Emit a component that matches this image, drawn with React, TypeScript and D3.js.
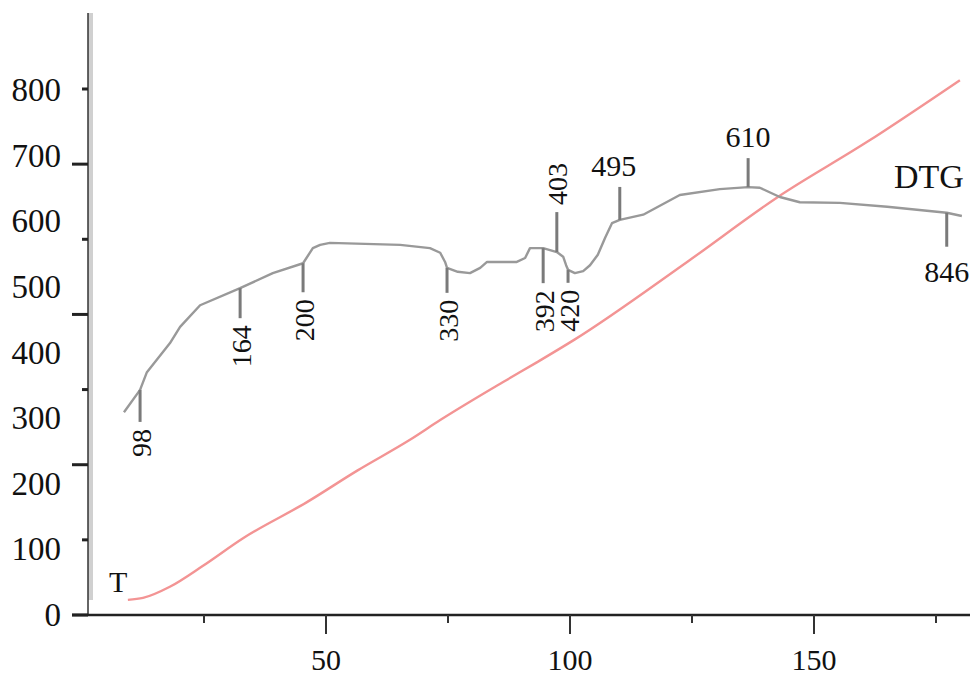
import React, { useEffect, useRef } from 'react';
import * as d3 from 'd3';

// time axis (min)
const xTicks = [25, 50, 75, 100, 125, 150, 175];
const xLabels = [50, 100, 150];
// temperature labels on the left
const yLabels = [0, 100, 200, 300, 400, 500, 600, 700, 800];
// tick marks drawn on the left axis (they don't line up with the labels)
const yMarks = [0, 1, 2, 3, 4, 5, 6, 7];

// T curve
const tempTime = [9.4, 12.5, 18.0, 24.8, 33.0, 46.1, 56.4, 67.2, 73.4, 86.3, 93.2, 101.0, 124.0, 142.6, 160.9, 179.9];
const tempValue = [23, 26, 43, 75, 117, 172, 220, 267, 297, 355, 385, 420, 538, 637, 721, 815];

// DTG curve (arbitrary units on the same scale)
const dtgTime = [8.6, 11.9, 13.3, 18.0, 20.1, 24.2, 32.4, 39.1, 45.3, 47.3, 48.8, 50.8, 65.2, 71.3, 73.4, 74.4, 74.8, 77.0, 79.5, 81.6, 83.0, 89.1, 90.8, 91.8, 94.5, 97.3, 98.6, 99.2, 99.6, 101.0, 102.7, 104.1, 105.7, 107.2, 108.6, 110.2, 115.0, 122.5, 130.7, 136.5, 138.9, 143.0, 147.1, 155.3, 165.0, 177.2, 180.3];
const dtgValue = [309, 343, 370, 414, 439, 472, 498, 521, 536, 559, 564, 567, 564, 559, 552, 538, 529, 523, 521, 529, 538, 538, 544, 559, 559, 553, 546, 533, 526, 521, 524, 533, 549, 575, 597, 602, 610, 640, 649, 652, 651, 637, 629, 628, 622, 613, 608];

// marked peaks
const peakLabels = ['98', '164', '200', '330', '392', '420', '403', '495', '610', '846'];
const peakTime = [11.9, 32.4, 45.3, 74.8, 94.5, 99.6, 97.3, 110.2, 136.5, 177.2];
const peakValue = [343, 498, 536, 529, 559, 526, 553, 602, 652, 613];

// how each marker is drawn: direction (1 = down), line length, rotated label
const peakStyle = [
  { dir: 1, len: 32, rot: true },
  { dir: 1, len: 30, rot: true },
  { dir: 1, len: 29, rot: true },
  { dir: 1, len: 25, rot: true },
  { dir: 1, len: 35, rot: true },
  { dir: 1, len: 13, rot: true },
  { dir: -1, len: 40, rot: true },
  { dir: -1, len: 33, rot: false },
  { dir: -1, len: 29, rot: false },
  { dir: 1, len: 34, rot: false },
];

const W = 975;
const H = 675;
const font = "'Liberation Serif', 'Times New Roman', serif";

export default function App() {
  const ref = useRef<SVGSVGElement>(null);

  useEffect(() => {
    const svg = d3.select(ref.current);
    svg.selectAll('*').remove();

    const x = d3.scaleLinear().domain([0, 180]).range([82, 960.4]);
    const y = d3.scaleLinear().domain([0, 800]).range([615, 90]);
    const markY = d3.scaleLinear().domain([0, 7]).range([615, 89]);

    // left axis
    svg.append('rect')
      .attr('x', 88).attr('y', 13).attr('width', 5).attr('height', 587)
      .attr('fill', '#d0d0d0');
    svg.append('line')
      .attr('x1', 88).attr('x2', 88).attr('y1', 13).attr('y2', 615)
      .attr('stroke', '#333').attr('stroke-width', 1.5);
    svg.selectAll(null).data(yMarks).join('line')
      .attr('x1', d => d % 2 === 0 ? 72 : 82).attr('x2', 88)
      .attr('y1', d => markY(d)).attr('y2', d => markY(d))
      .attr('stroke', '#222').attr('stroke-width', 3);
    svg.selectAll(null).data(yLabels).join('text')
      .attr('x', 61).attr('y', d => y(d))
      .attr('text-anchor', 'end').attr('dominant-baseline', 'central')
      .attr('font-family', font).attr('font-size', 33).attr('fill', '#111')
      .text(d => d);

    // bottom axis
    svg.append('line')
      .attr('x1', 72).attr('x2', 970).attr('y1', 615).attr('y2', 615)
      .attr('stroke', '#222').attr('stroke-width', 2.5);
    svg.selectAll(null).data(xTicks).join('line')
      .attr('x1', d => x(d)).attr('x2', d => x(d))
      .attr('y1', 615).attr('y2', d => d % 50 === 0 ? 634 : 623)
      .attr('stroke', '#333').attr('stroke-width', 2);
    svg.selectAll(null).data(xLabels).join('text')
      .attr('x', d => x(d)).attr('y', 670)
      .attr('text-anchor', 'middle')
      .attr('font-family', font).attr('font-size', 30).attr('fill', '#111')
      .text(d => d);

    // T curve
    const tLine = d3.line<number>()
      .x((d, i) => x(tempTime[i]))
      .y(d => y(d))
      .curve(d3.curveMonotoneX);
    svg.append('path')
      .datum(tempValue)
      .attr('fill', 'none')
      .attr('stroke', '#f39494')
      .attr('stroke-width', 2.4)
      .attr('d', tLine);

    // DTG curve
    const dLine = d3.line<number>()
      .x((d, i) => x(dtgTime[i]))
      .y(d => y(d));
    svg.append('path')
      .datum(dtgValue)
      .attr('fill', 'none')
      .attr('stroke', '#999')
      .attr('stroke-width', 2.4)
      .attr('stroke-linejoin', 'round')
      .attr('d', dLine);

    // peak markers
    peakLabels.forEach((lab, i) => {
      const st = peakStyle[i];
      const px = x(peakTime[i]);
      const py = y(peakValue[i]);
      const end = py + st.dir * st.len;
      svg.append('line')
        .attr('x1', px).attr('x2', px).attr('y1', py).attr('y2', end)
        .attr('stroke', '#7a7a7a').attr('stroke-width', 3);
      const t = svg.append('text')
        .attr('font-family', font).attr('fill', '#111')
        .text(lab);
      if (st.rot) {
        t.attr('font-size', 28)
          .attr('dominant-baseline', 'central')
          .attr('text-anchor', st.dir > 0 ? 'end' : 'start')
          .attr('transform', `translate(${px + 1},${end + st.dir * 7}) rotate(-90)`);
      } else {
        t.attr('font-size', 30)
          .attr('text-anchor', 'middle')
          .attr('x', px - (i === 7 ? 6 : 0))
          .attr('y', st.dir > 0 ? end + 35 : end - 11);
      }
    });

    // curve names
    svg.append('text')
      .attr('x', 109).attr('y', 592)
      .attr('font-family', font).attr('font-size', 30).attr('fill', '#111')
      .text('T');
    svg.append('text')
      .attr('x', 894).attr('y', 188)
      .attr('font-family', font).attr('font-size', 34).attr('fill', '#111')
      .text('DTG');
  }, []);

  return (
    <svg
      ref={ref}
      width={W}
      height={H}
      style={{ position: 'absolute', left: 0, top: 0, background: '#fff' }}
    />
  );
}
